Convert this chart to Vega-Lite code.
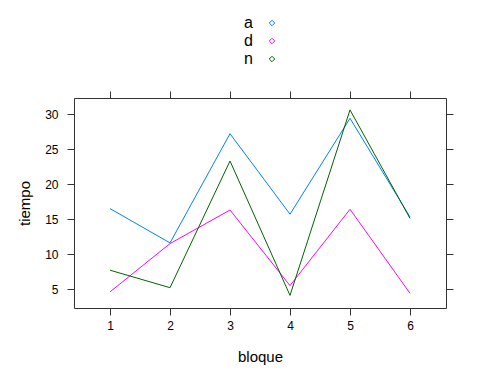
{
 "$schema": "https://vega.github.io/schema/vega-lite/v6.json",
 "autosize": {"type": "none"},
 "width": 372,
 "height": 210,
 "padding": {"left": 74, "top": 98, "right": 39, "bottom": 80},
 "config": {
  "font": "Liberation Sans",
  "view": {"stroke": "#333333", "strokeWidth": 1},
  "axis": {"grid": false, "domain": false, "tickColor": "#333333", "tickSize": 7, "labelFont": "Liberation Sans", "labelFontSize": 12, "labelColor": "#000000", "titleFont": "Liberation Sans", "titleFontWeight": "normal", "titleFontSize": 15, "titleColor": "#000000"}
 },
 "data": {"values": [
  {"bloque": 1, "g": "a", "tiempo": 16.5},
  {"bloque": 2, "g": "a", "tiempo": 11.6},
  {"bloque": 3, "g": "a", "tiempo": 27.2},
  {"bloque": 4, "g": "a", "tiempo": 15.7},
  {"bloque": 5, "g": "a", "tiempo": 29.4},
  {"bloque": 6, "g": "a", "tiempo": 15.3},
  {"bloque": 1, "g": "d", "tiempo": 4.6},
  {"bloque": 2, "g": "d", "tiempo": 11.5},
  {"bloque": 3, "g": "d", "tiempo": 16.3},
  {"bloque": 4, "g": "d", "tiempo": 5.5},
  {"bloque": 5, "g": "d", "tiempo": 16.4},
  {"bloque": 6, "g": "d", "tiempo": 4.4},
  {"bloque": 1, "g": "n", "tiempo": 7.7},
  {"bloque": 2, "g": "n", "tiempo": 5.2},
  {"bloque": 3, "g": "n", "tiempo": 23.3},
  {"bloque": 4, "g": "n", "tiempo": 4.1},
  {"bloque": 5, "g": "n", "tiempo": 30.6},
  {"bloque": 6, "g": "n", "tiempo": 15.1}
 ]},
 "layer": [
  {
   "mark": {"type": "line", "strokeWidth": 1},
   "encoding": {
    "x": {"field": "bloque", "type": "quantitative", "scale": {"domain": [0.4, 6.6], "nice": false, "zero": false}, "axis": {"values": [1, 2, 3, 4, 5, 6], "title": "bloque", "labelPadding": 5, "titlePadding": 18}},
    "y": {"field": "tiempo", "type": "quantitative", "scale": {"domain": [2.3, 32.3], "nice": false, "zero": false}, "axis": {"values": [5, 10, 15, 20, 25, 30], "title": "tiempo", "labelPadding": 9, "titlePadding": 12}},
    "color": {"field": "g", "type": "nominal", "scale": {"domain": ["a", "d", "n"], "range": ["#0080ff", "#ff00ff", "#006400"]},
     "legend": {"title": null, "orient": "none", "legendX": 162, "legendY": -83, "symbolType": "diamond", "symbolSize": 30, "symbolStrokeWidth": 1, "symbolFillColor": "transparent", "labelFontSize": 16, "labelFont": "Liberation Sans", "labelColor": "#000000", "symbolOffset": 28, "labelOffset": -36, "rowPadding": 2}}
   }
  },
  {
   "mark": {"type": "line", "opacity": 0},
   "encoding": {
    "x": {"field": "bloque", "type": "quantitative", "axis": {"orient": "top", "values": [1, 2, 3, 4, 5, 6], "labels": false, "title": null}},
    "y": {"field": "tiempo", "type": "quantitative", "axis": {"orient": "right", "values": [5, 10, 15, 20, 25, 30], "labels": false, "title": null}},
    "detail": {"field": "g"}
   }
  }
 ],
 "resolve": {"axis": {"x": "independent", "y": "independent"}}
}
